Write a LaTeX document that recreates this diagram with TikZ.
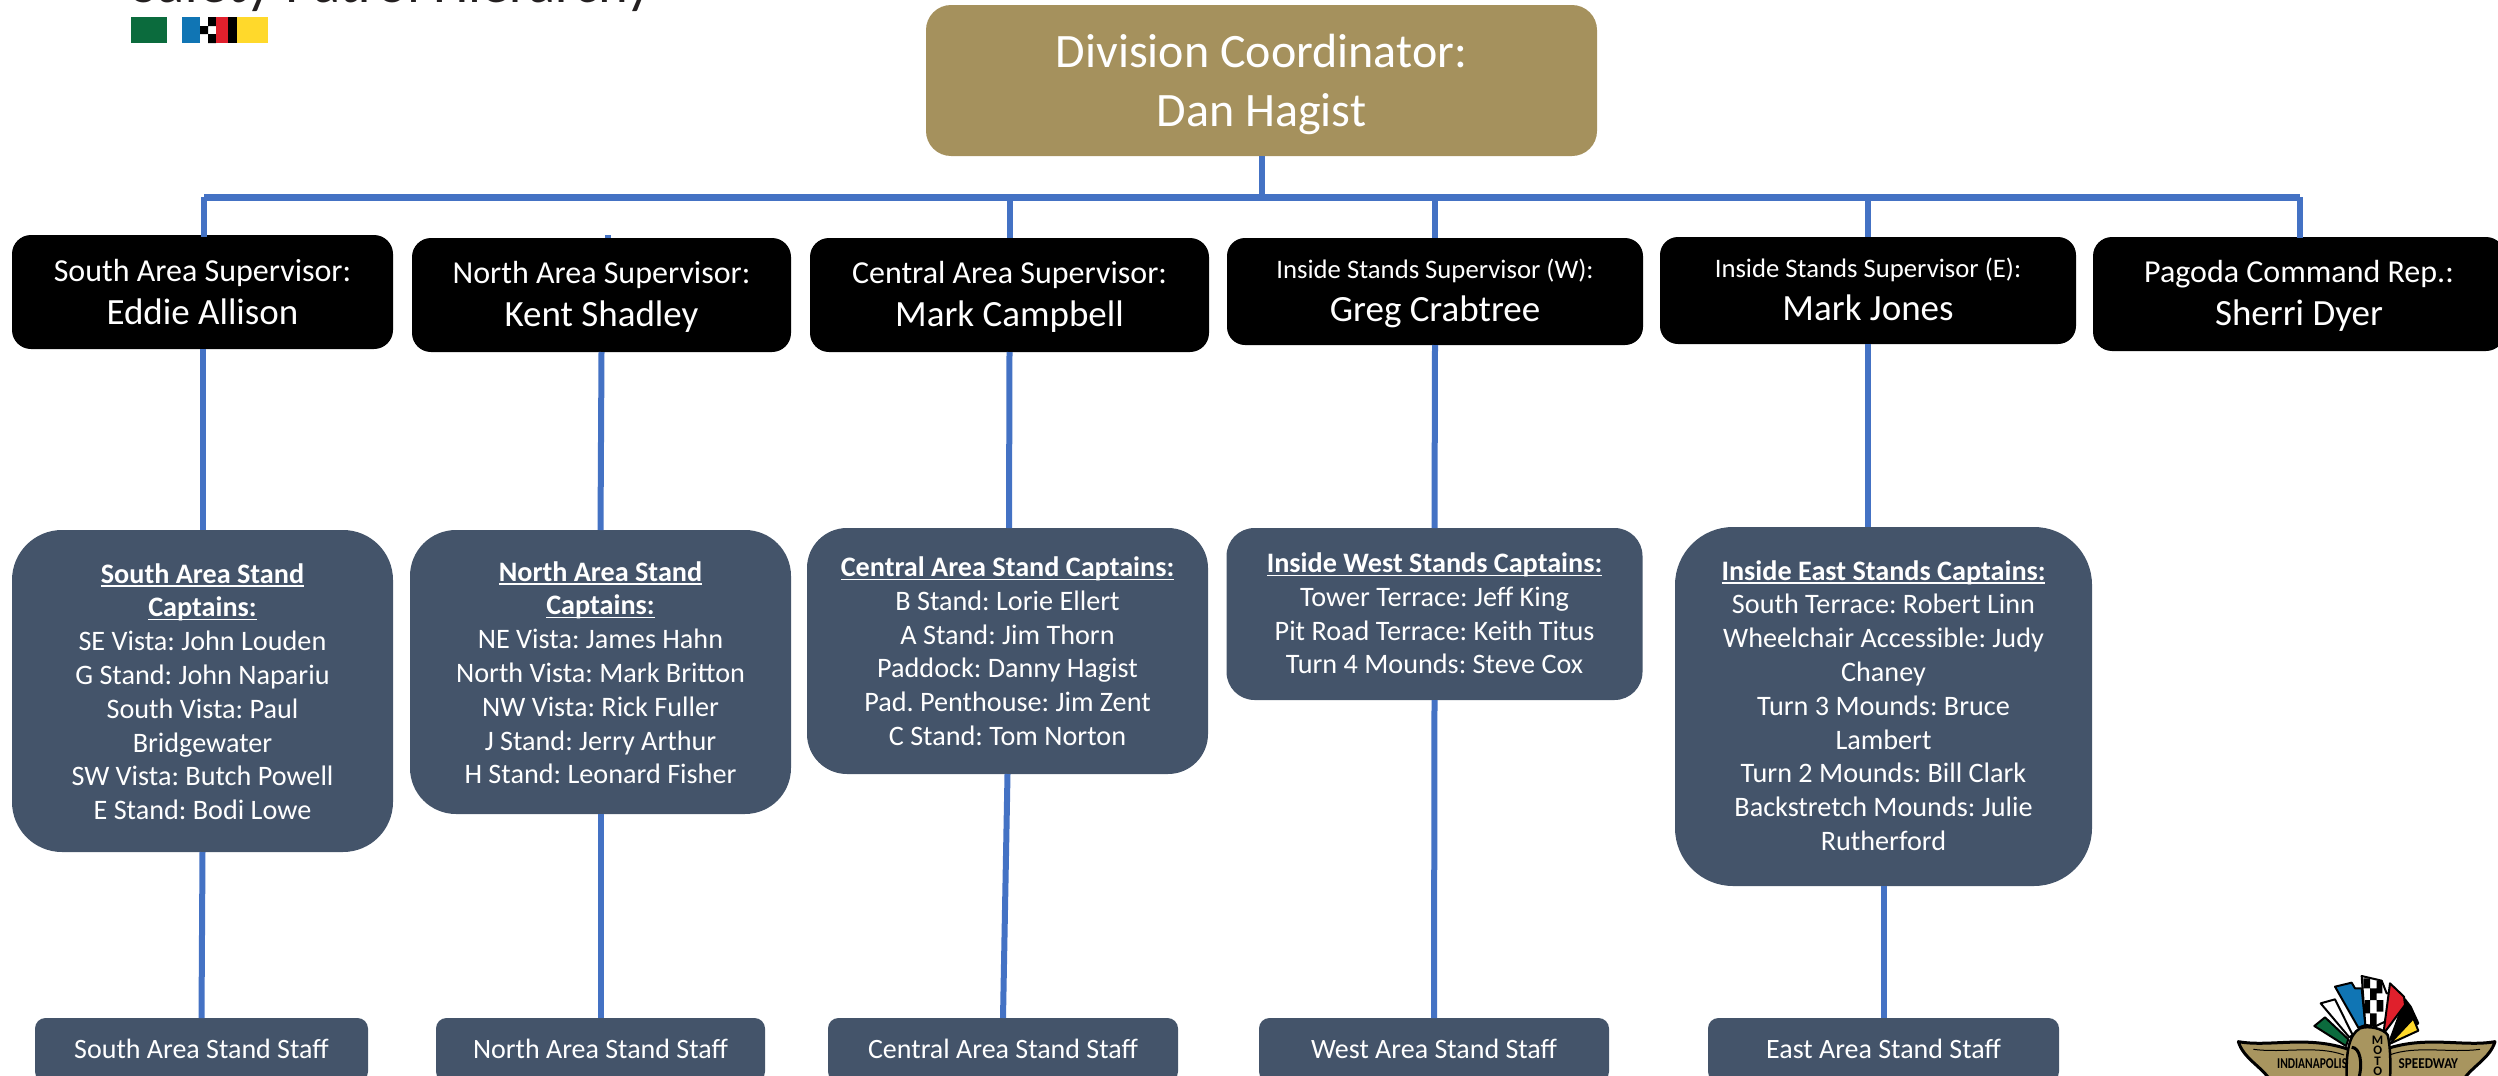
\documentclass[tikz,border=0pt]{standalone}
\usepackage{fontspec}
\usepackage{graphicx}
\usepackage{array}
\usetikzlibrary{calc}
\setmainfont{Carlito}
\frenchspacing
\definecolor{gold}{HTML}{A5915D}
\definecolor{slateb}{HTML}{44546A}
\definecolor{linkb}{HTML}{4472C4}
\definecolor{ink}{HTML}{231F20}
\definecolor{stgreen}{HTML}{0B6B3D}
\definecolor{stblue}{HTML}{1075B4}
\definecolor{stred}{HTML}{E0202C}
\definecolor{styellow}{HTML}{FFD92B}
\definecolor{logogold}{HTML}{A8955F}
\newcommand{\rows}[4]{\raisebox{#1pt}[0pt][0pt]{\fontsize{#2}{#3}\selectfont\begin{tabular}[t]{@{}c@{}}#4\end{tabular}}}
\newcommand{\ulin}[1]{\setbox0\hbox{\bfseries #1}\rlap{\rule[-3.6pt]{\wd0}{1.6pt}}\box0}
\newcommand{\supv}[4]{\rows{#1}{#2}{43}{#3\\\fontsize{37}{43}\selectfont #4}}
\tikzset{
  bx/.style={rectangle,inner sep=0pt,outer sep=0pt,text=white,align=center},
  goldbox/.style={bx,fill=gold,rounded corners=25pt},
  supbox/.style={bx,fill=black,rounded corners=19pt},
  standbox/.style={bx,fill=slateb},
  staffbox/.style={bx,fill=slateb,rounded corners=10.5pt},
  link/.style={draw=linkb,line width=6pt},
  busline/.style={draw=linkb,line width=7pt},
  logoline/.style={draw=black,line width=2pt,line join=round},
  logotext/.style={inner sep=0pt,outer sep=0pt,text=black,font=\fontsize{15}{15}\selectfont\bfseries},
}
\begin{document}
\begin{tikzpicture}[x=1pt,y=-1pt]
\useasboundingbox (0,0) rectangle (2498,1076);
\clip (0,0) rectangle (2498,1076);

% title, cut off by the top edge
\node[anchor=base west,inner sep=0pt,text=ink,font=\fontsize{56.6}{60}\selectfont] (title) at (131,2.5) {Safety Patrol Hierarchy};

% colour strip
\fill[stgreen] (131,17) rectangle (167,43);
\fill[stblue] (182,17) rectangle (200,43);
\fill[black] (208,17) rectangle (216,26) (200,26) rectangle (208,34) (208,34) rectangle (216,43);
\fill[stred] (216,17) rectangle (228,43);
\fill[black] (228,17) rectangle (237,43);
\fill[styellow] (237,17) rectangle (268,43);

% coordinator
\node[goldbox,minimum width=671pt,minimum height=151pt] (coord) at (1261.5,80.5)
  {\rows{13.5}{48}{59}{Division Coordinator:\\Dan Hagist}};

% supervisors
\node[supbox,minimum width=381pt,minimum height=114pt] (sup1) at (202.5,292) {\supv{11}{32}{South Area Supervisor:}{Eddie Allison}};
\node[supbox,minimum width=379pt,minimum height=114pt] (sup2) at (601.5,295) {\supv{12}{32}{North Area Supervisor:}{Kent Shadley}};
\node[supbox,minimum width=399pt,minimum height=114pt] (sup3) at (1009.5,295) {\supv{12}{32}{Central Area Supervisor:}{Mark Campbell}};
\node[supbox,minimum width=416pt,minimum height=107pt,rounded corners=18pt] (sup4) at (1435,291.5) {\supv{13.5}{26.7}{Inside Stands Supervisor (W):}{Greg Crabtree}};
\node[supbox,minimum width=416pt,minimum height=107pt,rounded corners=18pt] (sup5) at (1868,290.5) {\supv{13.5}{26.7}{Inside Stands Supervisor (E):}{Mark Jones}};
\node[supbox,minimum width=412pt,minimum height=114pt] (sup6) at (2299,294) {\supv{12}{32}{Pagoda Command Rep.:}{Sherri Dyer}};

% stand captains
\node[standbox,minimum width=381pt,minimum height=322pt,rounded corners=50pt] (cap1) at (202.5,691)
  {\rows{108}{28.2}{33.8}{\ulin{South Area Stand}\\\ulin{Captains:}\\SE Vista: John Louden\\G Stand: John Napariu\\South Vista: Paul\\Bridgewater\\SW Vista: Butch Powell\\E Stand: Bodi Lowe}};
\node[standbox,minimum width=381pt,minimum height=284pt,rounded corners=46pt] (cap2) at (600.5,672)
  {\rows{91}{28.2}{33.8}{\ulin{North Area Stand}\\\ulin{Captains:}\\NE Vista: James Hahn\\North Vista: Mark Britton\\NW Vista: Rick Fuller\\J Stand: Jerry Arthur\\H Stand: Leonard Fisher}};
\node[standbox,minimum width=401pt,minimum height=246pt,rounded corners=40pt] (cap3) at (1007.5,651)
  {\rows{74.5}{28.2}{33.8}{\ulin{Central Area Stand Captains:}\\B Stand: Lorie Ellert\\A Stand: Jim Thorn\\Paddock: Danny Hagist\\Pad. Penthouse: Jim Zent\\C Stand: Tom Norton}};
\node[standbox,minimum width=416pt,minimum height=172pt,rounded corners=28pt] (cap4) at (1434.5,614)
  {\rows{41.5}{28.2}{33.8}{\ulin{Inside West Stands Captains:}\\Tower Terrace: Jeff King\\Pit Road Terrace: Keith Titus\\Turn 4 Mounds: Steve Cox}};
\node[standbox,minimum width=417pt,minimum height=359pt,rounded corners=58pt] (cap5) at (1883.5,706.5)
  {\rows{126.5}{28.2}{33.8}{\ulin{Inside East Stands Captains:}\\South Terrace: Robert Linn\\Wheelchair Accessible: Judy\\Chaney\\Turn 3 Mounds: Bruce\\Lambert\\Turn 2 Mounds: Bill Clark\\Backstretch Mounds: Julie\\Rutherford}};

% staff
\node[staffbox,minimum width=333pt,minimum height=64pt] (staff1) at (201.5,1050) {\rows{-8}{28}{34}{South Area Stand Staff}};
\node[staffbox,minimum width=329pt,minimum height=64pt] (staff2) at (600.5,1050) {\rows{-8}{28}{34}{North Area Stand Staff}};
\node[staffbox,minimum width=350pt,minimum height=64pt] (staff3) at (1003,1050) {\rows{-8}{28}{34}{Central Area Stand Staff}};
\node[staffbox,minimum width=350pt,minimum height=64pt] (staff4) at (1434,1050) {\rows{-8}{28}{34}{West Area Stand Staff}};
\node[staffbox,minimum width=351pt,minimum height=64pt] (staff5) at (1883.5,1050) {\rows{-8}{28}{34}{East Area Stand Staff}};

% connectors
\coordinate (busL) at (204,197);
\coordinate (busR) at (2300,197);
\draw[busline] (busL) -- (busR);
\draw[link] (coord.south) -- (coord.south |- busL);
\draw[link] (busL) -- ($(sup1.north -| busL)+(0,2)$);
\draw[link] ($(sup2.north)+(6.5,0)$ |- busL) -- ($(sup2.north)+(6.5,-3)$);
\draw[link] (sup3.north |- busL) -- (sup3.north);
\draw[link] (sup4.north |- busL) -- (sup4.north);
\draw[link] (sup5.north |- busL) -- (sup5.north);
\draw[link] (busR) -- ($(sup6.north -| busR)+(0,1)$);
\draw[link] (sup1.south) -- (cap1.north);
\draw[link] (sup2.south) -- (cap2.north);
\draw[link] (sup3.south) -- ($(cap3.north)+(1.5,0)$);
\draw[link] (sup4.south) -- (cap4.north);
\draw[link] (sup5.south) -- (sup5.south |- cap5.north);
\draw[link] (cap1.south) -- (staff1.north);
\draw[link] (cap2.south) -- (staff2.north);
\draw[link] (cap3.south) -- (staff3.north);
\draw[link] (cap4.south) -- (staff4.north);
\draw[link] (cap5.south) -- (staff5.north);

% speedway logo
\begin{scope}[shift={(2220pt,-960pt)},x=0.3333pt,y=-0.3333pt]
  % flags
  \filldraw[logoline,fill=stgreen] (283,198) -- (315,172) -- (385,238) -- (378,258) -- cycle;
  \filldraw[logoline,fill=white] (302,130) -- (345,118) -- (398,225) -- (388,232) -- cycle;
  \filldraw[logoline,fill=stblue] (345,80) -- (395,68) -- (405,85) -- (425,85) -- (436,195) -- (415,203) -- cycle;
  \filldraw[logoline,fill=white] (425,48) -- (485,62) -- (500,100) -- (515,100) -- (495,185) -- (468,198) -- (436,195) -- cycle;
  \fill[black] (430,55) rectangle (450,85) (450,85) rectangle (470,120) (470,62) rectangle (487,100) (435,120) rectangle (450,160) (470,120) rectangle (490,155) (450,160) rectangle (470,195);
  \filldraw[logoline,fill=black] (555,118) -- (572,140) -- (595,190) -- (510,240) -- cycle;
  \filldraw[logoline,fill=stred] (510,70) -- (552,110) -- (555,135) -- (490,222) -- cycle;
  \filldraw[logoline,fill=styellow] (580,175) -- (595,212) -- (508,252) -- cycle;
  % wings
  \filldraw[logoline,line width=3pt,fill=logogold] (55,245) .. controls (150,262) and (260,225) .. (385,268) -- (400,360) -- (150,360) .. controls (125,320) and (70,295) .. cycle;
  \filldraw[logoline,line width=3pt,fill=logogold] (825,245) .. controls (730,262) and (620,225) .. (495,268) -- (480,360) -- (730,360) .. controls (755,320) and (810,295) .. cycle;
  \draw[black,line width=1pt] (100,268) .. controls (190,280) and (290,255) .. (372,285);
  \draw[black,line width=1pt] (780,268) .. controls (690,280) and (590,255) .. (508,285);
  % wheel
  \filldraw[logoline,line width=2.5pt,fill=logogold] (380,360) .. controls (378,280) and (385,225) .. (420,205) .. controls (445,196) and (490,205) .. (503,225) .. controls (512,260) and (512,320) .. (510,360) -- cycle;
  \draw[black,line width=3pt] (395,262) .. controls (420,262) and (430,310) .. (415,360);
  \node[logotext] (logoIMS) at (276.5,310) {\scalebox{0.77}[1]{INDIANAPOLIS}};
  \node[logotext] (logoSW) at (625,310) {\scalebox{0.88}[1]{SPEEDWAY}};
  \node[logotext,align=center,anchor=north,font=\fontsize{13}{10.5}\selectfont\bfseries] (logoMS) at (473,228) {M\\O\\T\\O};
\end{scope}
\end{tikzpicture}
\end{document}
